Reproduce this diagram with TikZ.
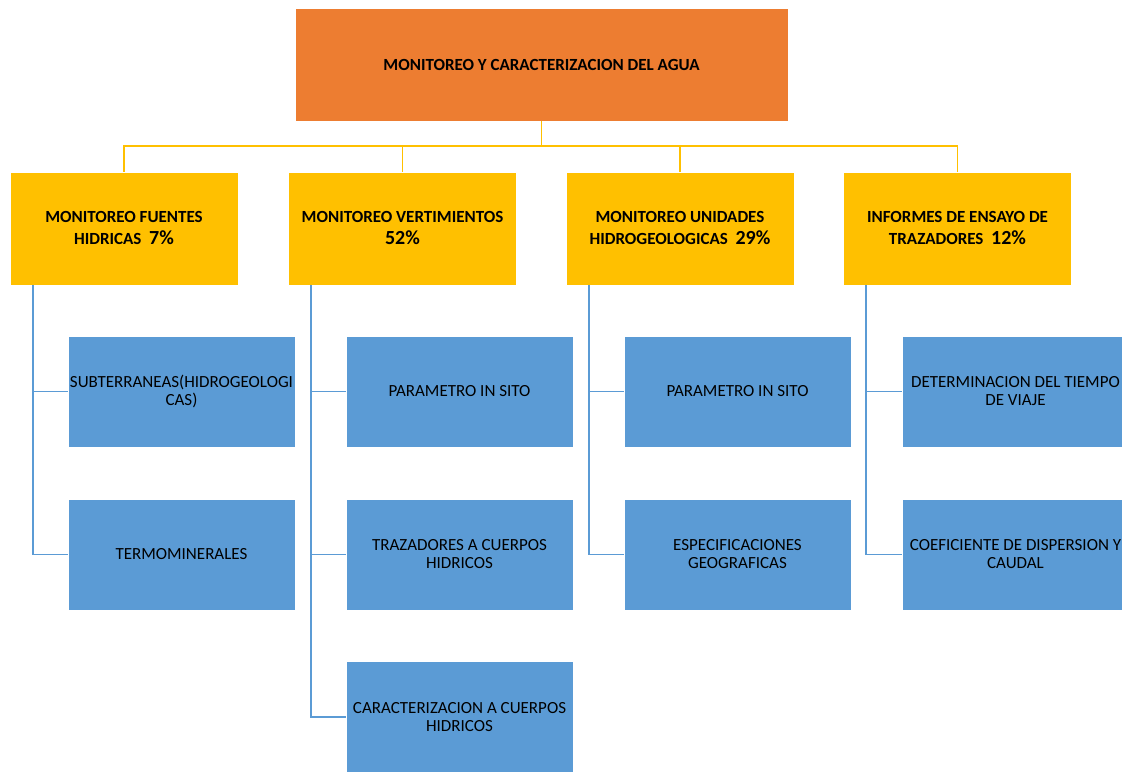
\documentclass[tikz,border=0pt]{standalone}
\usepackage{fontspec}
\setmainfont{Carlito}
\definecolor{orangeC}{HTML}{ED7D31}
\definecolor{yellowC}{HTML}{FFC000}
\definecolor{blueC}{HTML}{5B9BD5}
\begin{document}
\begin{tikzpicture}[x=1pt,y=-1pt,
  topbox/.style={fill=orangeC, draw=white, line width=0.6pt, minimum width=493pt, minimum height=113pt, align=center, font=\fontsize{17}{20}\selectfont\bfseries, inner sep=0pt},
  lvlbox/.style={fill=yellowC, draw=white, line width=0.6pt, minimum width=228pt, minimum height=113pt, align=center, font=\fontsize{17}{22}\selectfont\bfseries, inner sep=0pt},
  leafbox/.style={fill=blueC, draw=white, line width=0.6pt, minimum width=227pt, minimum height=111pt, align=center, font=\fontsize{17}{18}\selectfont, inner sep=0pt},
  ylink/.style={draw=yellowC, line width=1.8pt},
  blink/.style={draw=blueC, line width=1.8pt},
  pct/.style={font=\fontsize{20}{22}\selectfont\bfseries}
]
\useasboundingbox (0,0) rectangle (1122,772);
\clip (0,0) rectangle (1122,772);

\node[topbox] (top) at (541.5,64.5) {MONITOREO Y CARACTERIZACION DEL AGUA};

\node[lvlbox] (y1) at (124,228.5) {MONITOREO FUENTES\\HIDRICAS \ {\fontsize{20}{22}\selectfont 7\%}};
\node[lvlbox] (y2) at (402.5,228.5) {MONITOREO VERTIMIENTOS\\{\fontsize{20}{22}\selectfont 52\%}};
\node[lvlbox] (y3) at (680,228.5) {MONITOREO UNIDADES\\HIDROGEOLOGICAS \ {\fontsize{20}{22}\selectfont 29\%}};
\node[lvlbox] (y4) at (957.5,228.5) {INFORMES DE ENSAYO DE\\TRAZADORES \ {\fontsize{20}{22}\selectfont 12\%}};

\coordinate (bus) at (541.5,146);
\draw[ylink] (top.south) -- (bus);
\draw[ylink] (bus) -| (y1.north);
\draw[ylink] (bus) -| (y2.north);
\draw[ylink] (bus) -| (y3.north);
\draw[ylink] (bus) -| (y4.north);

% column 1
\node[leafbox] (b11) at (181.5,391.5) {SUBTERRANEAS(HIDROGEOLOGI\\CAS)};
\node[leafbox] (b12) at (181.5,554.5) {TERMOMINERALES};
% column 2
\node[leafbox] (b21) at (459.5,391.5) {PARAMETRO IN SITO};
\node[leafbox] (b22) at (459.5,554.5) {TRAZADORES A CUERPOS\\HIDRICOS};
\node[leafbox] (b23) at (459.5,717) {CARACTERIZACION A CUERPOS\\HIDRICOS};
% column 3
\node[leafbox] (b31) at (737.5,391.5) {PARAMETRO IN SITO};
\node[leafbox] (b32) at (737.5,554.5) {ESPECIFICACIONES\\GEOGRAFICAS};
% column 4
\node[leafbox] (b41) at (1015.5,391.5) {DETERMINACION DEL TIEMPO\\DE VIAJE};
\node[leafbox] (b42) at (1015.5,554.5) {COEFICIENTE DE DISPERSION Y\\CAUDAL};

\path (y1.south west) ++(23,0) coordinate (s1);
\path (y2.south west) ++(23,0) coordinate (s2);
\path (y3.south west) ++(23,0) coordinate (s3);
\path (y4.south west) ++(23,0) coordinate (s4);

\draw[blink] (s1) |- (b12.west);
\draw[blink] (s1) |- (b11.west);
\draw[blink] (s2) |- (b23.west);
\draw[blink] (s2) |- (b22.west);
\draw[blink] (s2) |- (b21.west);
\draw[blink] (s3) |- (b32.west);
\draw[blink] (s3) |- (b31.west);
\draw[blink] (s4) |- (b42.west);
\draw[blink] (s4) |- (b41.west);
\end{tikzpicture}
\end{document}
